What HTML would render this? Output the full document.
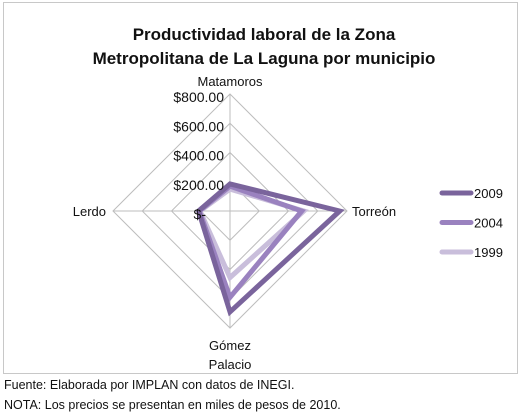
<!DOCTYPE html>
<html><head><meta charset="utf-8"><style>
body{margin:0;background:#fff;font-family:"Liberation Sans",sans-serif;}
svg{display:block}
</style></head><body>
<svg id="c" width="531" height="415">
<rect x="3.5" y="2.5" width="514" height="371" fill="#fff" stroke="#c8c8c8"/>
<text x="264" y="40" text-anchor="middle" font-size="17" font-weight="bold" fill="#111">Productividad laboral de la Zona</text>
<text x="264" y="64" text-anchor="middle" font-size="17" font-weight="bold" fill="#111">Metropolitana de La Laguna por municipio</text>
<g id="grid"></g><g id="series"></g><g id="labels"></g><g id="legend"></g>
<text x="4" y="389" font-size="12.5" fill="#111">Fuente: Elaborada por IMPLAN con datos de INEGI.</text>
<text x="4" y="409" font-size="12.5" fill="#111">NOTA: Los precios se presentan en miles de pesos de 2010.</text>
</svg>
<script>
const categories=["Matamoros","Torreón","Gómez Palacio","Lerdo"];
const seriesNames=["2009","2004","1999"];
const s2009=[185,750,690,215];
const s2004=[170,490,590,210];
const s1999=[150,505,455,205];
const ticks=[0,200,400,600,800];
const tickLabels=["$-","$200.00","$400.00","$600.00","$800.00"];
const colors=["#7a649c","#9a82bf","#c9bedb"];
const NS="http://www.w3.org/2000/svg";
const cx=230,cy=211,R=117,maxV=800;
function r(v){return v/maxV*R;}
function pt(i,v){const a=-Math.PI/2+i*Math.PI/2;return [cx+r(v)*Math.cos(a),cy+r(v)*Math.sin(a)];}
function mk(tag,attrs,parent){const e=document.createElementNS(NS,tag);for(const k in attrs)e.setAttribute(k,attrs[k]);parent.appendChild(e);return e;}
const grid=document.getElementById('grid');
ticks.slice(1).forEach((t,k)=>{
  const p=categories.map((c,i)=>pt(i,t).join(',')).join(' ');
  const g=mk('polygon',{points:p,fill:'none',stroke:'#bdbdbd','stroke-width':1},grid);
  
  
});
categories.forEach((c,i)=>{
  const [x,y]=pt(i,maxV);
  const l=mk('line',{x1:cx,y1:cy,x2:x,y2:y,stroke:'#bdbdbd','stroke-width':1},grid);
  
  
});
const sg=document.getElementById('series');
const data=[s2009,s2004,s1999];
[2,1,0].forEach(k=>{
  const p=data[k].map((v,i)=>pt(i,v).join(',')).join(' ');
  const pg=mk('polygon',{points:p,fill:'none',stroke:colors[k],'stroke-width':5,'stroke-linejoin':'miter'},sg);
  
  
});
const lg=document.getElementById('labels');
ticks.forEach((t,k)=>{
  const [x,y]=pt(0,t);
  const tx=mk('text',{x:t===0?cx-24:cx-6,y:y+8,'text-anchor':'end','font-size':14,fill:'#111'},lg);
  tx.textContent=tickLabels[k];
  
  
});
const catPos=[[cx,86,'middle'],[352,216,'start'],[cx,350,'middle'],[106,216,'end']];
categories.forEach((c,i)=>{
  const [x,y,a]=catPos[i];
  const parts=c==="Gómez Palacio"?["Gómez","Palacio"]:[c];
  parts.forEach((s,j)=>{
    const tx=mk('text',{x:x,y:y+j*19,'text-anchor':a,'font-size':13,fill:'#111'},lg);
    tx.textContent=s;
    
    
  });
});
const leg=document.getElementById('legend');
seriesNames.forEach((n,k)=>{
  const y=193+k*29.5;
  const ln=mk('line',{x1:442,y1:y,x2:471,y2:y,stroke:colors[k],'stroke-width':5,'stroke-linecap':'round'},leg);
  
  
  const tx=mk('text',{x:474,y:y+5,'font-size':13,fill:'#111'},leg);
  tx.textContent=n;
  
  
});
</script>
</body></html>
